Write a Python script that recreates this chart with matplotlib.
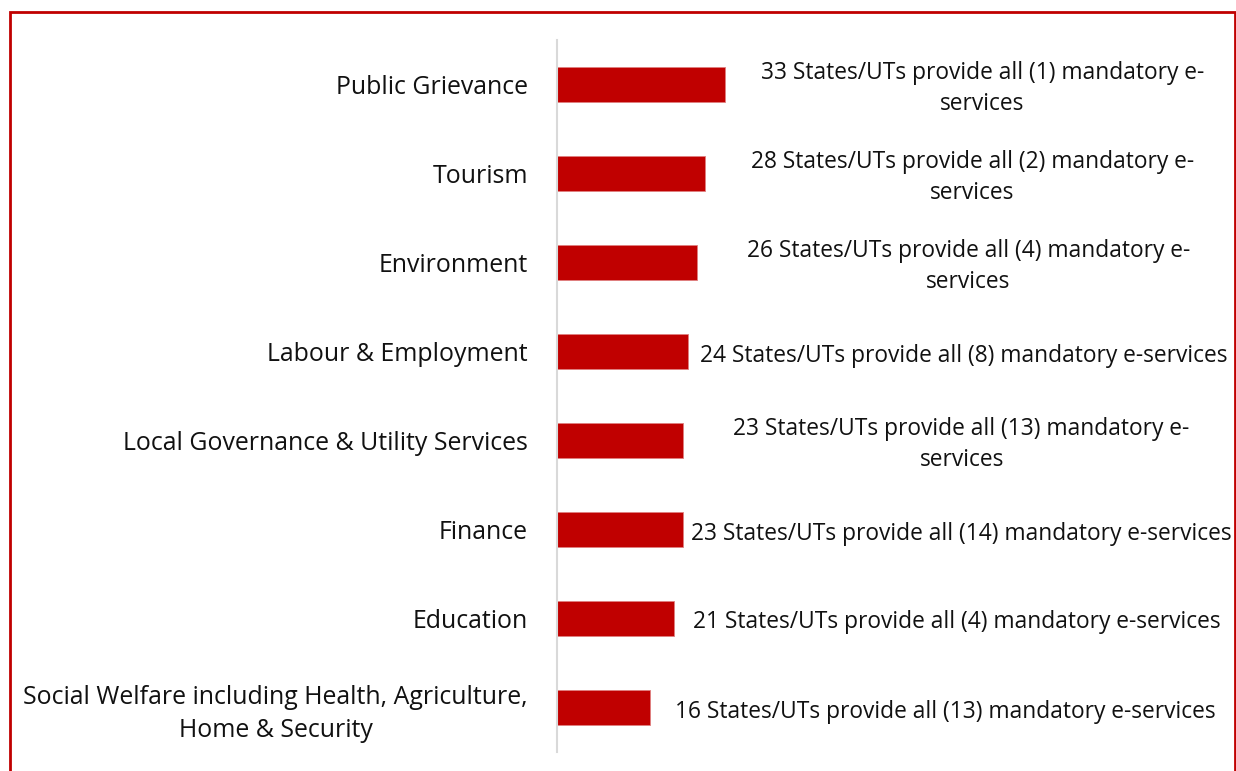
import matplotlib.pyplot as plt
from matplotlib.patches import Rectangle

plt.rcParams['font.family'] = ['Open Sans', 'DejaVu Sans']

# categories, top to bottom
categories = ['Public Grievance', 'Tourism', 'Environment', 'Labour & Employment',
              'Local Governance & Utility Services', 'Finance', 'Education',
              'Social Welfare including Health, Agriculture,\nHome & Security']
# bar lengths
bar_values = [33.0, 29.1, 27.5, 25.7, 24.8, 24.8, 23.0, 18.3]
states = [33, 28, 26, 24, 23, 23, 21, 16]
services = [1, 2, 4, 8, 13, 14, 4, 13]
wrapped = [True, True, True, False, True, False, False, False]

red = '#C00000'
xmax = (1236 - 557) / 5.09

fig = plt.figure(figsize=(12.36, 7.71), dpi=100)
ax = fig.add_axes([557 / 1236, 19 / 771, (1236 - 557) / 1236, (752 - 40) / 771])

y = list(range(len(categories)))[::-1]
ax.barh(y, bar_values, height=0.4, color=red, edgecolor='#e08080', linewidth=0.6)

# labels sit centred between bar end and the right edge
for yi, v, s, n, w in zip(y, bar_values, states, services, wrapped):
    if w:
        txt = '{} States/UTs provide all ({}) mandatory e-\nservices'.format(s, n)
    else:
        txt = '{} States/UTs provide all ({}) mandatory e-services'.format(s, n)
    ax.annotate(txt, ((v + xmax) / 2, yi), xytext=(2, -4), textcoords='offset pixels',
                ha='center', va='center', multialignment='center',
                fontsize=16.4, color='#111111', linespacing=1.42, annotation_clip=False)

ax.set_xlim(0, xmax)
ax.set_ylim(-0.5, 7.5)
ax.set_yticks(y)
ax.set_yticklabels(categories, fontsize=17.9, color='#111111', multialignment='center',
                   linespacing=1.38)
ax.tick_params(axis='y', length=0, pad=21)
ax.set_xticks([])
for side in ['top', 'right', 'bottom']:
    ax.spines[side].set_visible(False)
ax.spines['left'].set_color('#d9d9d9')
ax.spines['left'].set_linewidth(1.5)

# red frame around the chart
fig.patches.append(Rectangle((10 / 1236, -0.05), (1235 - 10) / 1236, 1.05 - 12 / 771,
                             transform=fig.transFigure, fill=False, edgecolor=red,
                             linewidth=2, clip_on=False))

fig.savefig('out.png', dpi=100)
